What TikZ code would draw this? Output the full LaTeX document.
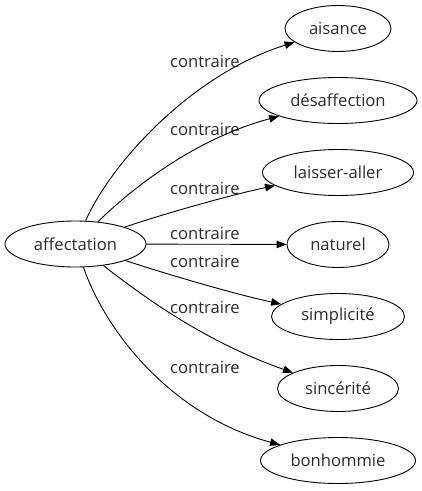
\documentclass[tikz,border=0pt]{standalone}
\usepackage{fontspec}
\setmainfont{Open Sans}
\usetikzlibrary{arrows.meta,shapes.geometric}
\definecolor{txt}{HTML}{2B2B2B}
\tikzset{
  word/.style={ellipse,draw=black,line width=0.9pt,inner sep=0pt,minimum height=46pt,text=txt,font=\fontsize{16.6}{20}\selectfont},
  lbl/.style={inner sep=0pt,text=txt,font=\fontsize{16.6}{20}\selectfont},
  rel/.style={draw=black,line width=0.9pt,-{Triangle[length=10pt,width=7.5pt]}}
}
\begin{document}
\begin{tikzpicture}[x=1pt,y=-1pt]
\useasboundingbox (0,0) rectangle (422,491);
\node[word,minimum width=141pt] (src) at (75.5,244) {affectation};
\node[word,minimum width=106pt] (n1) at (338,28.5) {aisance};
\node[word,minimum width=158pt] (n2) at (338,100.5) {désaffection};
\node[word,minimum width=151pt] (n3) at (338,172.5) {laisser-aller};
\node[word,minimum width=102pt] (n4) at (338,244.5) {naturel};
\node[word,minimum width=133pt] (n5) at (338,316.5) {simplicité};
\node[word,minimum width=121pt] (n6) at (338,388.5) {sincérité};
\node[word,minimum width=155pt] (n7) at (338,460.5) {bonhommie};
\node[lbl] (l1) at (205,61) {contraire};
\node[lbl] (l2) at (205,129) {contraire};
\node[lbl] (l3) at (205,188) {contraire};
\node[lbl] (l4) at (205,233) {contraire};
\node[lbl] (l5) at (205,261) {contraire};
\node[lbl] (l6) at (205,307) {contraire};
\node[lbl] (l7) at (205,367) {contraire};
\draw[rel] (src) .. controls (110,165) and (190,75) .. (n1);
\draw[rel] (src) .. controls (125,195) and (190,140) .. (n2);
\draw[rel] (src) .. controls (160,215) and (230,195) .. (n3);
\draw[rel] (src) -- (n4);
\draw[rel] (src) .. controls (160,272) and (230,293) .. (n5);
\draw[rel] (src) .. controls (135,290) and (200,340) .. (n6);
\draw[rel] (src) .. controls (105,330) and (170,415) .. (n7);
\end{tikzpicture}
\end{document}
